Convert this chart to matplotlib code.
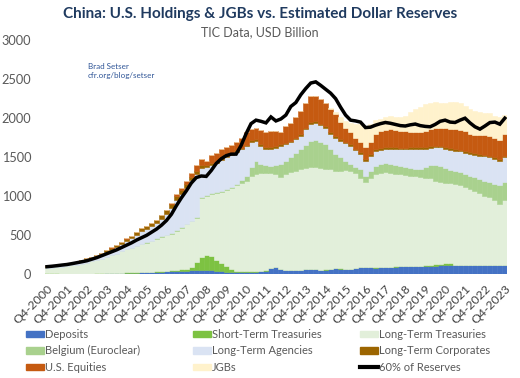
import matplotlib
matplotlib.use("Agg")
import matplotlib.pyplot as plt
from matplotlib.patches import Patch
from matplotlib.lines import Line2D
import numpy as np

plt.rcParams['font.family'] = ['Lato', 'DejaVu Sans']

tick_labels = ["Q4-%d" % y for y in range(2000, 2024)]

deposits = [5,5,5,5,6,6,6,7,8,8,10,10,12,15,15,18,20,22,22,25,28,30,32,35,38,40,42,45,50,55,
            60,62,60,55,50,45,35,30,30,28,30,32,35,40,50,80,90,70,60,55,55,60,65,70,65,60,62,70,80,75,
            70,72,85,92,95,90,88,90,95,98,100,102,105,105,108,110,110,112,112,115,118,120,118,120,122,120,118,118,120,118,
            115,118,120]
short_term = [15,12,8,5,4,3,3,3,3,3,3,4,4,5,5,6,6,8,10,8,6,6,8,10,10,12,15,20,25,40,
              100,160,190,175,140,100,70,40,20,10,8,8,6,6,5,4,4,4,3,3,3,3,3,3,3,3,3,3,2,2,
              2,2,2,2,2,2,2,2,2,2,2,2,2,2,3,4,5,15,20,18,25,22,8,4,3,3,3,3,3,3,
              3,3,3]
long_term = [60,68,79,88,94,106,116,125,139,157,172,186,204,225,245,271,294,305,328,352,371,389,415,435,452,468,503,535,565,585,
             560,758,750,800,855,915,970,1030,1090,1132,1162,1220,1249,1254,1245,1211,1196,1176,1227,1247,1272,1287,1292,1297,1302,1302,1285,1272,1248,1253,
             1263,1256,1213,1146,1083,1138,1190,1203,1208,1200,1188,1176,1168,1158,1144,1131,1125,1103,1068,1047,1027,1023,1034,1016,990,967,949,919,887,869,
             832,784,825]
belgium = [0]*18 + [5,5,6,6,7,7,8,8,9,9,10,10,10,10,12,12,12,14,14,16,
            20,40,60,120,160,110,100,95,110,164,160,193,220,255,300,340,350,335,318,255,210,170,
            120,84,80,110,85,100,113,115,120,114,110,105,100,100,100,105,130,170,200,213,190,175,170,175,175,170,175,185,190,190,
            210,240,232]
agencies = [19,19,19,22,25,25,29,32,40,43,50,58,66,74,82,95,108,125,142,164,171,183,190,222,266,327,386,418,460,513,
            560,370,358,358,373,386,409,414,410,390,380,320,261,240,205,215,220,233,218,192,180,169,200,220,224,210,212,200,210,210,
            225,233,210,191,191,190,191,185,180,191,205,215,225,240,250,255,240,220,226,233,250,255,254,260,270,285,285,295,310,318,
            320,311,318]
corporates = [5,5,6,7,8,9,10,12,14,16,18,20,22,24,26,28,30,32,35,38,40,42,44,46,48,50,50,48,45,42,
              40,38,35,30,28,25,22,20,20,20,20,20,20,20,20,20,20,20,20,20,20,20,20,20,20,20,20,20,20,20,
              20,20,20,20,20,20,20,20,20,20,20,20,20,20,20,20,20,20,20,20,20,20,20,20,20,20,20,20,20,20,
              20,20,20]
equities = [1,1,1,1,1,1,1,1,1,1,2,2,2,2,2,2,2,3,3,3,3,4,4,5,8,15,25,35,45,55,
            70,82,45,100,102,115,105,110,110,120,157,140,149,180,192,205,198,150,212,234,270,298,320,333,319,320,298,300,280,220,
            180,150,140,129,149,160,192,215,225,235,225,220,210,200,195,192,210,220,234,234,240,250,256,255,250,235,240,245,250,256,
            250,244,282]
jgbs = [0]*57 + [10,30,60,90,125,180,240,255,230,180,160,160,165,170,175,200,250,300,330,340,340,330,320,330,340,345,340,330,320,300,290,285,290,280,290,240]
reserves60 = [99,105,112,120,127,138,150,162,175,195,215,240,265,290,315,345,375,405,440,470,500,540,580,630,690,770,880,980,1070,1170,
              1240,1260,1255,1330,1420,1480,1520,1540,1540,1650,1800,1930,1975,1960,1940,2016,1965,1990,2040,2150,2200,2300,2380,2450,2465,2420,2370,2320,2250,2140,
              2040,1975,1965,1950,1880,1885,1910,1930,1945,1935,1920,1905,1900,1915,1925,1905,1895,1890,1920,1960,1975,1950,1945,1975,2000,1940,1890,1860,1900,1944,
              1950,1923,2000]

series = [
    ("Deposits", deposits, "#4472C4"),
    ("Short-Term Treasuries", short_term, "#7DC242"),
    ("Long-Term Treasuries", long_term, "#E2EFDA"),
    ("Belgium (Euroclear)", belgium, "#A9D18E"),
    ("Long-Term Agencies", agencies, "#DAE3F3"),
    ("Long-Term Corporates", corporates, "#9C6500"),
    ("U.S. Equities", equities, "#C55A11"),
    ("JGBs", jgbs, "#FFF2CC"),
]

n = len(reserves60)
x = np.arange(n)

fig = plt.figure(figsize=(5.2, 3.78), dpi=100)
ax = fig.add_axes([0.0856, 0.274, 0.890, 0.620])

bottom = np.zeros(n)
for name, vals, col in series:
    v = np.array(vals, dtype=float)
    ax.bar(x, v, width=1.0, bottom=bottom, color=col, edgecolor=col, linewidth=0.4, label=name)
    bottom += v
ax.plot(x, reserves60, color="black", lw=2.5, solid_joinstyle="miter")

ax.set_xlim(-0.5, n - 0.5)
ax.set_ylim(0, 3000)
ax.set_yticks([0, 500, 1000, 1500, 2000, 2500, 3000])
ax.set_xticks(x[::4])
ax.set_xticklabels(tick_labels, rotation=45, ha="right", rotation_mode="anchor", fontsize=8.8, color="#404040")
ax.tick_params(axis="both", length=0)
ax.tick_params(axis="y", labelsize=9.2, colors="#595959", pad=9.5)
ax.tick_params(axis="x", pad=6)
for s in ax.spines.values():
    s.set_visible(False)

fig.text(0.5, 0.963, "China: U.S. Holdings & JGBs vs. Estimated Dollar Reserves", ha="center", va="center",
         fontsize=11, fontweight="bold", color="#1F3A5F")
fig.text(0.5, 0.915, "TIC Data, USD Billion", ha="center", va="center", fontsize=9, color="#595959")
fig.text(0.169, 0.812, "Brad Setser\ncfr.org/blog/setser", ha="left", va="center", fontsize=5.8,
         color="#2F5597", linespacing=1.3)

cols = [[0, 3, 6], [1, 4, 7], [2, 5, None]]
xpos = [0.05, 0.371, 0.692]
for ci, idxs in enumerate(cols):
    handles, labels = [], []
    for k in idxs:
        if k is None:
            handles.append(Line2D([0], [0], color="black", lw=3))
            labels.append("60% of Reserves")
        else:
            name, _, col = series[k]
            handles.append(Patch(facecolor=col, edgecolor=col))
            labels.append(name)
    fig.legend(handles, labels, loc="upper left", bbox_to_anchor=(xpos[ci], 0.13), frameon=False,
               fontsize=8, labelcolor="#595959", handlelength=1.6, handleheight=0.55, handletextpad=0.1,
               labelspacing=0.5, borderaxespad=0, borderpad=0)

fig.savefig("out.png", dpi=100)
